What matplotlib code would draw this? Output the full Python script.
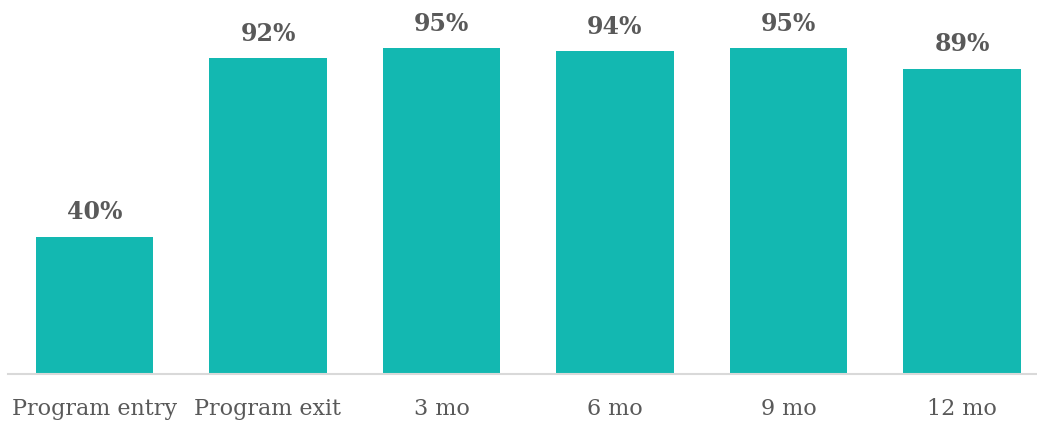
import matplotlib
matplotlib.use("Agg")
import matplotlib.pyplot as plt

categories = ["Program entry", "Program exit", "3 mo", "6 mo", "9 mo", "12 mo"]
values = [0.40, 0.92, 0.95, 0.94, 0.95, 0.89]

bar_color = "#13B8B1"
text_color = "#595959"

fig = plt.figure(figsize=(10.37, 4.21), dpi=100)
ax = fig.add_axes([7.75 / 1037, 47 / 421, (1037 - 7.75) / 1037, 374 / 421])

x = range(len(categories))
bars = ax.bar(x, values, width=0.68, color=bar_color)

for rect, v in zip(bars, values):
    ax.annotate(f"{v:.0%}", (rect.get_x() + rect.get_width() / 2, v),
                xytext=(0, 9), textcoords="offset points",
                ha="center", va="bottom", fontsize=17, fontweight="bold",
                family="DejaVu Serif", color=text_color)

ax.set_xlim(-0.5, (1037 - 94.5) / 173.5)
ax.set_ylim(0, 1.09)
ax.set_xticks(list(x))
ax.set_xticklabels(categories, family="DejaVu Serif", fontsize=16, color=text_color)
ax.tick_params(axis="x", length=0, pad=17)
ax.set_yticks([])

for side in ["top", "right", "left"]:
    ax.spines[side].set_visible(False)
ax.spines["bottom"].set_color("#D9D9D9")
ax.spines["bottom"].set_linewidth(1.5)

fig.savefig("out.png", dpi=100)
